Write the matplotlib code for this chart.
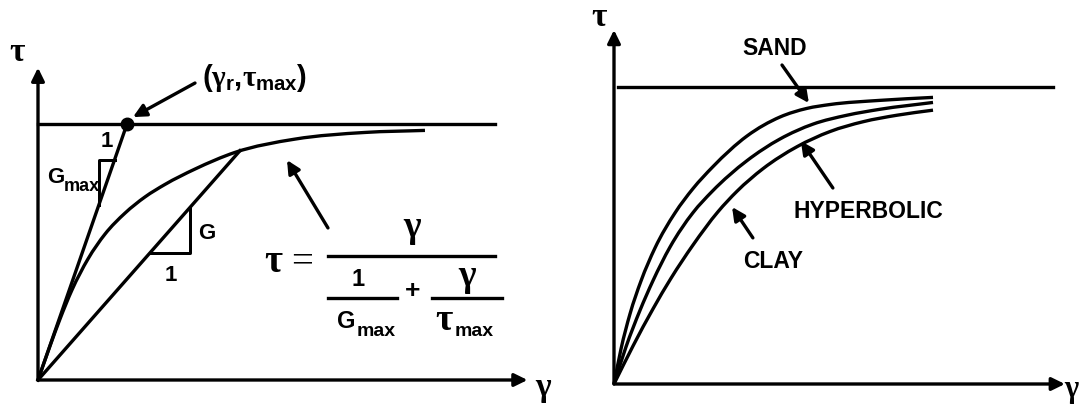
import matplotlib
matplotlib.use('Agg')
import matplotlib.pyplot as plt
from matplotlib.path import Path
from matplotlib.patches import PathPatch

plt.rcParams['mathtext.fontset'] = 'custom'
plt.rcParams['mathtext.rm'] = 'Liberation Sans:bold'
plt.rcParams['mathtext.bf'] = 'Liberation Sans:bold'
plt.rcParams['mathtext.it'] = 'Liberation Serif:bold'

# left panel, gamma in units of gamma_r, tau in units of tau_max
left_gamma = [0, 0.135, 0.247, 0.382, 0.562, 0.753, 0.978, 1.202, 1.427, 1.764, 2.213, 2.888, 3.674, 4.348]
left_tau = [0, 0.133, 0.238, 0.352, 0.473, 0.570, 0.652, 0.715, 0.764, 0.824, 0.889, 0.941, 0.967, 0.975]
gamma_r = 1.0
tau_max = 1.0
secant_end = (2.27, 0.896)

# right panel, tau in units of tau_max
right_gamma_sand = [0, 0.219, 0.5, 0.844, 1.281, 1.906, 2.469, 3.094, 4.156, 5.188, 6.031, 6.75, 8.313, 9.969]
right_tau_sand = [0, 0.118, 0.236, 0.347, 0.458, 0.576, 0.658, 0.732, 0.835, 0.899, 0.928, 0.941, 0.955, 0.965]
right_gamma_hyp = [0, 0.375, 0.8125, 1.219, 1.75, 2.469, 3.063, 4.156, 5.188, 6.219, 7.281, 8.313, 9.969]
right_tau_hyp = [0, 0.125, 0.248, 0.348, 0.461, 0.577, 0.648, 0.752, 0.825, 0.875, 0.905, 0.925, 0.948]
right_gamma_clay = [0, 0.594, 1.219, 1.781, 2.469, 3.25, 3.844, 4.656, 5.719, 6.75, 7.781, 8.844, 9.969]
right_tau_clay = [0, 0.128, 0.253, 0.356, 0.468, 0.580, 0.649, 0.725, 0.799, 0.850, 0.883, 0.905, 0.922]

LW = 2.4
BOLD = dict(family='Liberation Sans', weight='bold', color='black')
HEAD = '-|>,head_length=0.65,head_width=0.32'


def smooth_line(ax, xs, ys, lw=LW):
    # cubic hermite through the read points, drawn as bezier segments
    n = len(xs)
    h = [xs[i + 1] - xs[i] for i in range(n - 1)]
    d = [(ys[i + 1] - ys[i]) / h[i] for i in range(n - 1)]
    m = [d[0]] + [(d[i - 1] * h[i] + d[i] * h[i - 1]) / (h[i - 1] + h[i]) for i in range(1, n - 1)] + [d[-1]]
    verts = [(xs[0], ys[0])]
    codes = [Path.MOVETO]
    for i in range(n - 1):
        verts += [(xs[i] + h[i] / 3, ys[i] + m[i] * h[i] / 3),
                  (xs[i + 1] - h[i] / 3, ys[i + 1] - m[i + 1] * h[i] / 3),
                  (xs[i + 1], ys[i + 1])]
        codes += [Path.CURVE4] * 3
    ax.add_patch(PathPatch(Path(verts, codes), fill=False, lw=lw, color='black',
                           capstyle='butt', joinstyle='round'))


def arrow(ax, tail, head, lw=LW, scale=12):
    ax.annotate('', xy=head, xytext=tail,
                arrowprops=dict(arrowstyle=HEAD, mutation_scale=scale, lw=lw,
                                color='black', shrinkA=0, shrinkB=0))


fig = plt.figure(figsize=(10.85, 4.09), dpi=100)

# ---------------- left panel
axl = fig.add_axes([0, 0, 1, 1])
axl.set_xlim(-38 / 89, (1085 - 38) / 89)
axl.set_ylim(-(409 - 380) / 256, 380 / 256)
axl.axis('off')

arrow(axl, (0, 0), (5.5, 0))
arrow(axl, (0, 0), (0, 1.22))
axl.text(-0.225, 1.285, r'$\tau$', fontsize=24, ha='center', va='center')
axl.text(5.68, -0.035, r'$\gamma$', fontsize=24, ha='center', va='center')

axl.plot([0, 5.135], [tau_max, tau_max], color='black', lw=LW)
smooth_line(axl, left_gamma, left_tau)
axl.plot([0, gamma_r], [0, tau_max], color='black', lw=LW)
axl.plot([0, secant_end[0]], [0, secant_end[1]], color='black', lw=LW)
axl.plot([gamma_r], [tau_max], 'o', color='black', ms=9)

# Gmax slope triangle
axl.plot([0.685, 0.685, 0.86], [0.685, 0.86, 0.86], color='black', lw=LW * 0.9)
axl.text(0.775, 0.93, '1', fontsize=16, ha='center', va='center', **BOLD)
axl.text(0.1, 0.79, 'G', fontsize=16, ha='left', va='center', **BOLD)
axl.text(0.29, 0.755, 'max', fontsize=13, ha='left', va='center', **BOLD)

# G slope triangle
slope = secant_end[1] / secant_end[0]
axl.plot([1.26, 1.71, 1.71], [1.26 * slope, 1.26 * slope, 1.71 * slope], color='black', lw=LW * 0.9)
axl.text(1.9, 0.574, 'G', fontsize=16, ha='center', va='center', **BOLD)
axl.text(1.49, 0.41, '1', fontsize=16, ha='center', va='center', **BOLD)

# reference point label
axl.text(1.84, 1.18, r'$(\gamma_{\mathrm{r}}{,}\tau_{\mathrm{max}})$', fontsize=21,
         ha='left', va='center')
arrow(axl, (1.764, 1.16), (1.067, 1.027))

# hyperbolic formula
axl.text(2.652, 0.465, r'$\tau$', fontsize=28, ha='center', va='center')
axl.text(2.966, 0.458, '=', fontsize=28, ha='center', va='center', family='Liberation Serif')
axl.plot([3.258, 5.135], [0.484, 0.484], color='black', lw=LW)
axl.text(4.213, 0.59, r'$\gamma$', fontsize=27, ha='center', va='center')
axl.plot([3.258, 4.034], [0.32, 0.32], color='black', lw=LW)
axl.plot([4.427, 5.213], [0.32, 0.32], color='black', lw=LW)
axl.text(3.596, 0.392, '1', fontsize=17, ha='center', va='center', **BOLD)
axl.text(3.46, 0.228, 'G', fontsize=17, ha='center', va='center', **BOLD)
axl.text(3.58, 0.19, 'max', fontsize=14, ha='left', va='center', **BOLD)
axl.text(4.213, 0.347, '+', fontsize=19, ha='center', va='center', **BOLD)
axl.text(4.831, 0.40, r'$\gamma$', fontsize=27, ha='center', va='center')
axl.text(4.57, 0.235, r'$\tau$', fontsize=27, ha='center', va='center')
axl.text(4.68, 0.19, 'max', fontsize=14, ha='left', va='center', **BOLD)
arrow(axl, (3.258, 0.594), (2.798, 0.859))

# ---------------- right panel
axr = fig.add_axes([0, 0, 1, 1])
axr.patch.set_alpha(0)
axr.set_xlim(-614 / 32, (1085 - 614) / 32)
axr.set_ylim(-(409 - 384) / 297, 384 / 297)
axr.axis('off')

arrow(axr, (0, 0), (14.09, 0))
arrow(axr, (0, 0), (0, 1.192))
axr.text(-0.44, 1.236, r'$\tau$', fontsize=24, ha='center', va='center')
axr.text(14.3, -0.024, r'$\gamma$', fontsize=22, ha='center', va='center')

axr.plot([0.125, 13.72], [tau_max, tau_max], color='black', lw=LW)
smooth_line(axr, right_gamma_sand, right_tau_sand)
smooth_line(axr, right_gamma_hyp, right_tau_hyp)
smooth_line(axr, right_gamma_clay, right_tau_clay)

axr.text(5.03, 1.131, 'SAND', fontsize=16.5, ha='center', va='center', **BOLD)
arrow(axr, (5.25, 1.074), (6.09, 0.946))
axr.text(7.94, 0.582, 'HYPERBOLIC', fontsize=16.5, ha='center', va='center', **BOLD)
arrow(axr, (6.84, 0.66), (5.84, 0.818))
axr.text(4.97, 0.411, 'CLAY', fontsize=16.5, ha='center', va='center', **BOLD)
arrow(axr, (4.34, 0.492), (3.69, 0.596))

fig.savefig('out.png', dpi=100, facecolor='white')
